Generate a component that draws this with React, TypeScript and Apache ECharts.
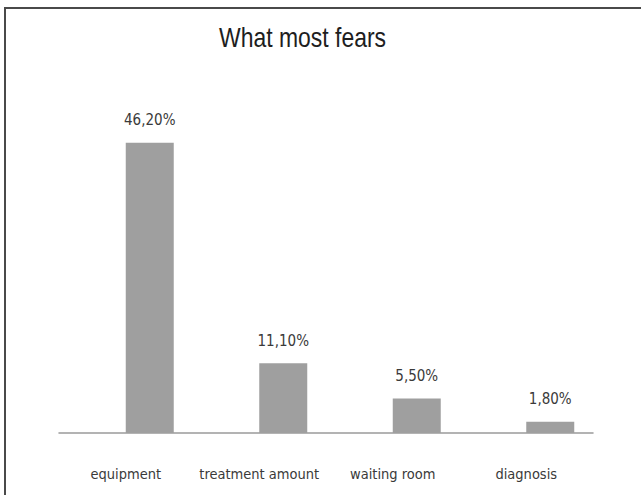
import React, { useEffect, useRef } from "react";
import * as echarts from "echarts";

const categories = ["equipment", "treatment amount", "waiting room", "diagnosis"];
const values = [46.2, 11.1, 5.5, 1.8];
const emptySlot = ["-", "-", "-", "-"];
const titleText = "What most fears";

const COND = '"DejaVu Sans Condensed", "DejaVu Sans", sans-serif';

export default function App() {
  const ref = useRef<HTMLDivElement>(null);
  useEffect(() => {
    document.body.style.margin = "0";
    const chart = echarts.init(ref.current!, undefined, { renderer: "svg" });
    chart.setOption({
      animation: false,
      backgroundColor: "#ffffff",
      grid: { left: 59, right: 48, top: 119, bottom: 62 },
      xAxis: {
        type: "category",
        data: categories,
        axisLine: { lineStyle: { color: "#9a9a9a", width: 1.5 } },
        axisTick: { show: false },
        axisLabel: { interval: 0, margin: 33, fontFamily: COND, fontSize: 14.5, color: "#3a3a3a" },
      },
      yAxis: { type: "value", min: 0, max: 50, show: false, splitLine: { show: false } },
      series: [
        { type: "bar", data: emptySlot, barWidth: 48, barGap: "0%" },
        {
          type: "bar",
          data: values,
          barWidth: 48,
          barGap: "0%",
          itemStyle: { color: "#9f9f9f" },
          label: {
            show: true,
            position: "top",
            distance: 15,
            fontFamily: COND,
            fontSize: 15,
            color: "#3a3a3a",
            formatter: (p: any) => p.value.toFixed(2).replace(".", ",") + "%",
          },
        },
      ],
      graphic: [
        {
          type: "rect",
          shape: { x: 5, y: 8, width: 700, height: 600 },
          style: { fill: "none", stroke: "#4a4a4a", lineWidth: 2 },
          silent: true,
        },
        {
          type: "text",
          x: 219,
          y: 37,
          scaleX: 0.82,
          style: {
            text: titleText,
            font: '28px "Liberation Sans", Arial, sans-serif',
            fill: "#1e1e1e",
            align: "left",
            verticalAlign: "middle",
          },
        },
      ],
    });
    return () => chart.dispose();
  }, []);
  return <div ref={ref} style={{ position: "absolute", left: 0, top: 0, width: 641, height: 495 }} />;
}
